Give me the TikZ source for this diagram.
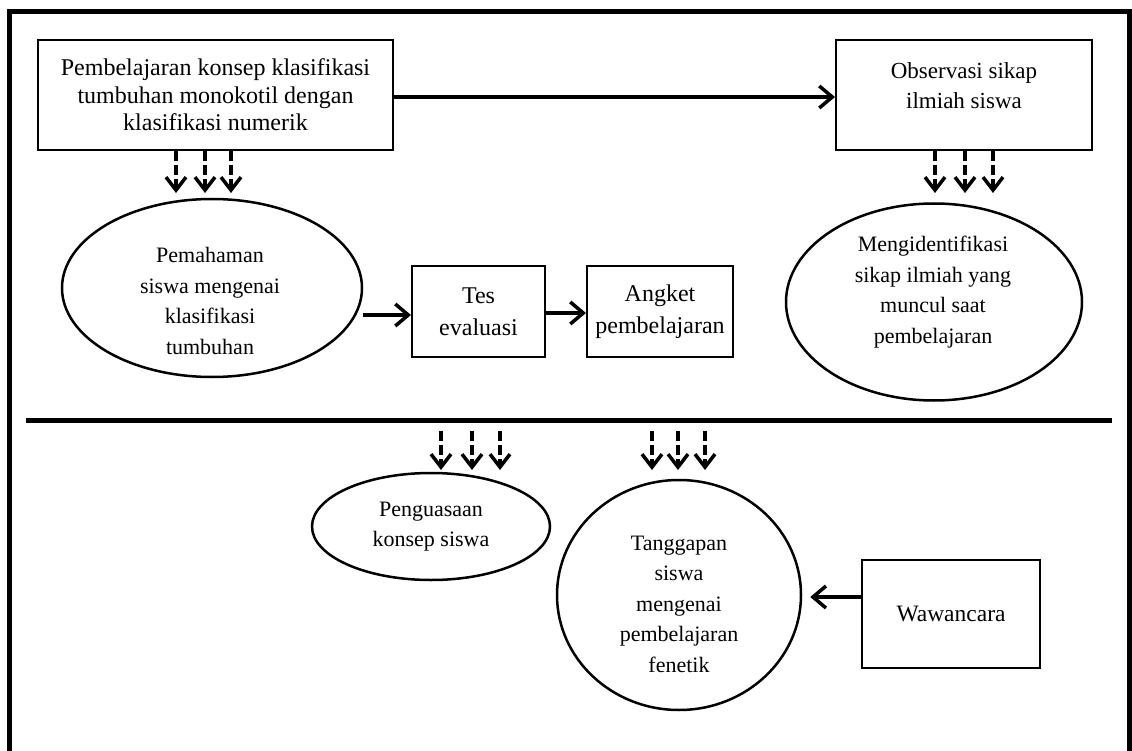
\documentclass[tikz,border=0pt]{standalone}
\usepackage{fontspec}
\setmainfont{Liberation Serif}
\usetikzlibrary{arrows.meta,shapes.geometric}
\begin{document}
\begin{tikzpicture}[x=1pt,y=-1pt,
  box/.style={draw,line width=2pt,inner sep=0pt,align=center,font=\fontsize{23.5}{30}\selectfont},
  ell/.style={draw,ellipse,line width=2.5pt,inner sep=0pt},
  txt/.style={inner sep=0pt,align=center,font=\fontsize{22}{30.5}\selectfont},
  arr/.style={line width=3.5pt,-{Straight Barb[length=13pt,width=22pt]}},
  darr/.style={line width=3.5pt,dash pattern=on 10pt off 4pt,-{Straight Barb[length=13pt,width=20pt]}},
  frame/.style={line width=5pt}]
\useasboundingbox (0,0) rectangle (1132,751);
\draw[frame] (9.5,770) -- (9.5,11.5) -- (1129.5,11.5) -- (1129.5,770);
\coordinate (dl) at (26,420);
\coordinate (dr) at (1112,420);
\draw[frame] (dl) -- (dr);

% upper part
\node[box,minimum width=355pt,minimum height=110pt,font=\fontsize{24}{27.5}\selectfont] (b1) at (215.5,95)
  {Pembelajaran konsep klasifikasi\\tumbuhan monokotil dengan\\klasifikasi numerik};
\node[box,minimum width=256pt,minimum height=110pt] (b2) at (964,95) {};
\node[txt,font=\fontsize{23}{30}\selectfont] (b2t) at (964,86) {Observasi sikap\\ilmiah siswa};
\draw[arr] (b1.east |- 0,97) -- (b2.west |- 0,97);

\node[ell,minimum width=300pt,minimum height=178pt] (e1) at (212,288) {};
\node[txt] (e1t) at (210,301) {Pemahaman\\siswa mengenai\\klasifikasi\\tumbuhan};
\node[box,minimum width=133pt,minimum height=91pt,font=\fontsize{24}{32}\selectfont] (tes) at (478.5,311.5) {Tes\\evaluasi};
\node[box,minimum width=146pt,minimum height=91pt,font=\fontsize{24}{32}\selectfont] (ang) at (660,311.5) {Angket\\pembelajaran};
\draw[arr] (e1.east |- 0,315) -- (tes.west |- 0,315);
\draw[arr] (tes.east |- 0,313) -- (ang.west |- 0,313);

\node[ell,minimum width=296pt,minimum height=197pt] (e2) at (934,302) {};
\node[txt] (e2t) at (933,292) {Mengidentifikasi\\sikap ilmiah yang\\muncul saat\\pembelajaran};

\foreach \x in {176,205,231} {
  \coordinate (t1\x) at (\x,193);
  \draw[darr] (b1.south -| \x,0) -- (t1\x);
}
\foreach \x in {935,965,993} {
  \coordinate (t2\x) at (\x,193);
  \draw[darr] (b2.south -| \x,0) -- (t2\x);
}

% lower part
\node[ell,minimum width=238pt,minimum height=107pt,txt] (e3) at (431,526.5) {Penguasaan\\konsep siswa};
\node[ell,minimum width=244pt,minimum height=230pt] (e4) at (679,595) {};
\node[txt] (e4t) at (679,604) {Tanggapan\\siswa\\mengenai\\pembelajaran\\fenetik};
\node[box,minimum width=178pt,minimum height=108pt] (w) at (951,614) {Wawancara};
\draw[arr,shorten >=8pt] (w.west |- 0,597) -- (e4.east |- 0,597);

\foreach \x in {441,472,500} {
  \coordinate (s3\x) at (\x,431);
  \coordinate (t3\x) at (\x,470);
  \draw[darr] (s3\x) -- (t3\x);
}
\foreach \x in {652,678,705} {
  \coordinate (s4\x) at (\x,431);
  \coordinate (t4\x) at (\x,470);
  \draw[darr] (s4\x) -- (t4\x);
}
\end{tikzpicture}
\end{document}
